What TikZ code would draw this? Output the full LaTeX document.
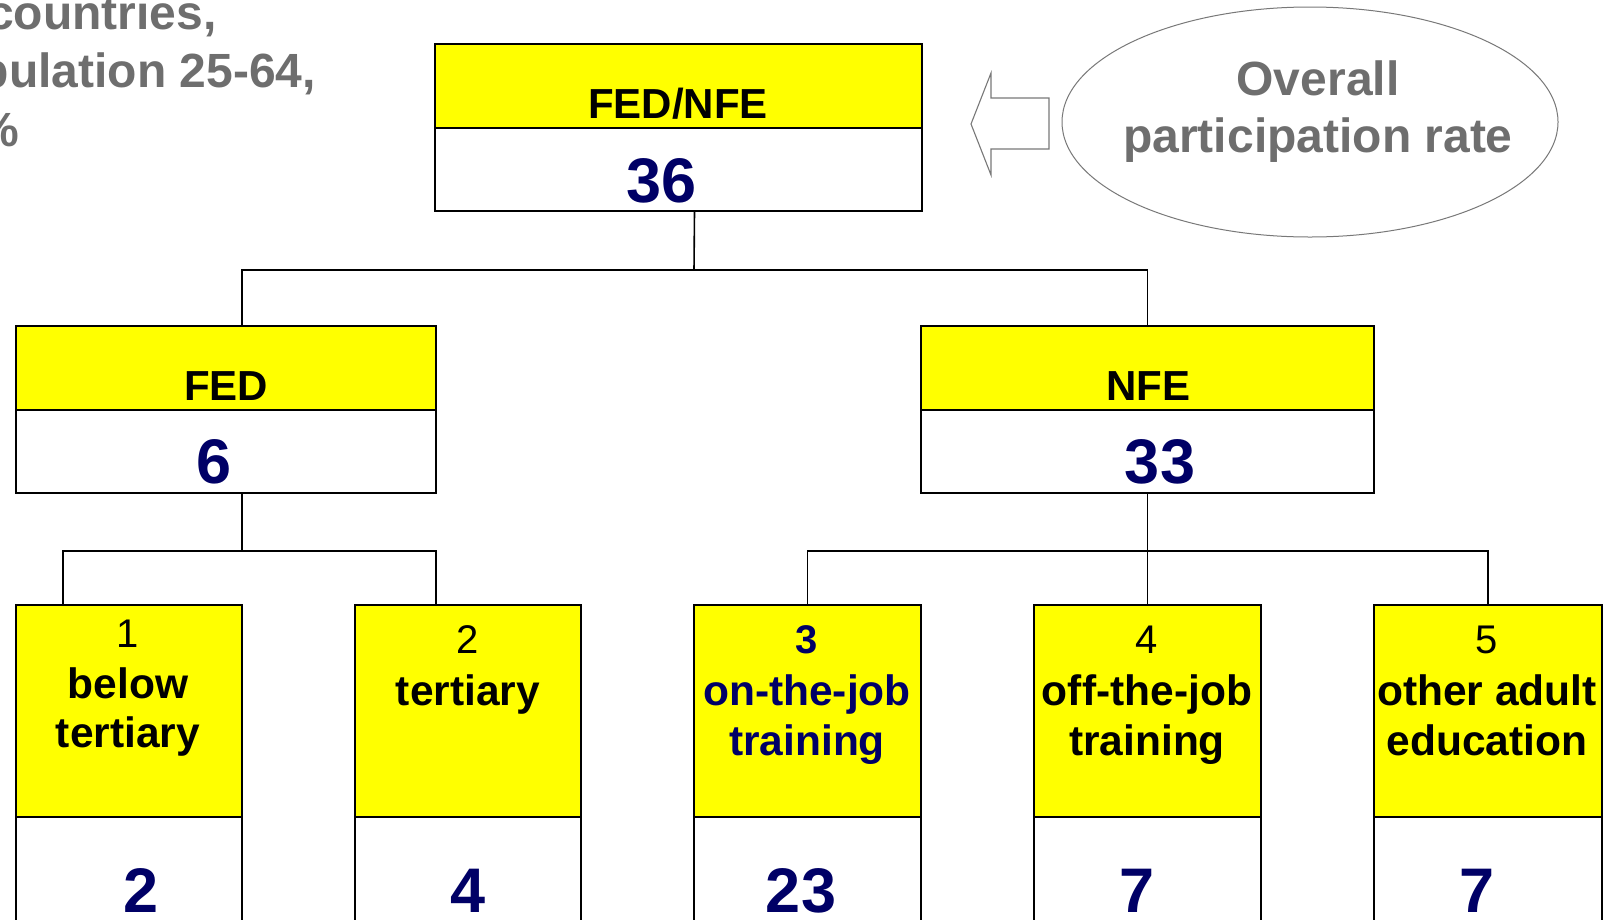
\documentclass[tikz,border=0pt]{standalone}
\usepackage{fontspec}
\setmainfont{Liberation Sans}
\usetikzlibrary{shapes.geometric,calc}
\definecolor{navy}{RGB}{0,0,102}
\definecolor{txtgray}{RGB}{110,110,110}
\definecolor{linegray}{RGB}{120,120,120}
\definecolor{boxyellow}{RGB}{255,255,0}
\tikzset{
  boxline/.style={draw=black, line width=1.8pt},
  hdr/.style={boxline, fill=boxyellow, rectangle, anchor=north west, inner sep=0pt, outer sep=0pt},
  valbox/.style={boxline, fill=white, rectangle, anchor=north west, inner sep=0pt, outer sep=0pt},
  conn/.style={draw=black, line width=1.6pt},
  headtxt/.style={anchor=base, inner sep=0pt, font=\fontsize{42}{50}\selectfont\bfseries},
  subtxt/.style={anchor=base, inner sep=0pt, font=\fontsize{42.5}{50}\selectfont\bfseries},
  idxtxt/.style={anchor=base, inner sep=0pt, font=\fontsize{40}{48}\selectfont},
  numtxt/.style={anchor=base, inner sep=0pt, text=navy, font=\fontsize{63}{70}\selectfont\bfseries},
  graytxt/.style={anchor=base, inner sep=0pt, text=txtgray, font=\fontsize{48}{56}\selectfont\bfseries},
}
\begin{document}
\begin{tikzpicture}[x=1pt,y=-1pt]
\clip (0,0) rectangle (1608,919);
\fill[white] (0,0) rectangle (1608,919);

% top-left caption (cut off by the left edge, as in the reference)
\node[graytxt, anchor=base west] (capA) at (-13,29) {countries,};
\node[graytxt, anchor=base west] (capB) at (-79,87) {population 25-64,};
\node[graytxt, anchor=base west] (capC) at (-24,146) {\%};

% top box
\node[hdr, minimum width=487, minimum height=84] (topH) at (435,44) {};
\node[valbox, minimum width=487, minimum height=83] (topV) at (435,128) {};
\node[headtxt] (topT) at (678,118) {FED/NFE};
\node[numtxt] (topN) at (662,202) {36};

% ellipse and arrow
\node[draw=linegray, line width=1pt, ellipse, minimum width=496, minimum height=230, inner sep=0pt] (ell) at (1310,122) {};
\node[graytxt] (ellA) at (1318,95) {Overall};
\node[graytxt] (ellB) at (1318,152) {participation rate};
\draw[linegray, line width=1.1pt, line join=miter]
  (971,124) -- (991,73) -- (991,98) -- (1049,98) -- (1049,149) -- (991,149) -- (991,175) -- cycle;

% level 2
\node[hdr, minimum width=420, minimum height=84] (fedH) at (16,326) {};
\node[valbox, minimum width=420, minimum height=83] (fedV) at (16,410) {};
\node[headtxt] (fedT) at (226,400) {FED};
\node[numtxt] (fedN) at (214,483) {6};

\node[hdr, minimum width=453, minimum height=84] (nfeH) at (921,326) {};
\node[valbox, minimum width=453, minimum height=83] (nfeV) at (921,410) {};
\node[headtxt] (nfeT) at (1148,400) {NFE};
\node[numtxt] (nfeN) at (1160,483) {33};

% level 3 boxes
\node[hdr, minimum width=226, minimum height=212] (b1H) at (16,605) {};
\node[valbox, minimum width=226, minimum height=130] (b1V) at (16,817) {};
\node[hdr, minimum width=226, minimum height=212] (b2H) at (355,605) {};
\node[valbox, minimum width=226, minimum height=130] (b2V) at (355,817) {};
\node[hdr, minimum width=227, minimum height=212] (b3H) at (694,605) {};
\node[valbox, minimum width=227, minimum height=130] (b3V) at (694,817) {};
\node[hdr, minimum width=227, minimum height=212] (b4H) at (1034,605) {};
\node[valbox, minimum width=227, minimum height=130] (b4V) at (1034,817) {};
\node[hdr, minimum width=228, minimum height=212] (b5H) at (1374,605) {};
\node[valbox, minimum width=228, minimum height=130] (b5V) at (1374,817) {};

% box 1
\node[idxtxt] (b1i) at (128,647) {1};
\node[subtxt] (b1a) at (128,698) {below};
\node[subtxt] (b1b) at (128,747) {tertiary};
\node[numtxt] (b1n) at (141,912) {2};
% box 2
\node[idxtxt] (b2i) at (468,653) {2};
\node[subtxt] (b2a) at (468,705) {tertiary};
\node[numtxt] (b2n) at (468,912) {4};
% box 3
\node[subtxt, text=navy, font=\fontsize{40}{48}\selectfont\bfseries] (b3i) at (807,653) {3};
\node[subtxt, text=navy] (b3a) at (807,705) {on-the-job};
\node[subtxt, text=navy] (b3b) at (807,755) {training};
\node[numtxt] (b3n) at (801,912) {23};
% box 4
\node[idxtxt] (b4i) at (1147,653) {4};
\node[subtxt] (b4a) at (1147,705) {off-the-job};
\node[subtxt] (b4b) at (1147,755) {training};
\node[numtxt] (b4n) at (1137,912) {7};
% box 5
\node[idxtxt] (b5i) at (1487,653) {5};
\node[subtxt] (b5a) at (1487,705) {other adult};
\node[subtxt] (b5b) at (1487,755) {education};
\node[numtxt] (b5n) at (1477,912) {7};

% connectors
\coordinate (bus1) at (694,270);
\coordinate (fedbus) at (242,551);
\coordinate (nfebus) at (1147.5,551);
\draw[conn] ([xshift=16pt]topV.south) -- (bus1);
\draw[conn] ([xshift=16pt]fedH.north) |- (bus1) -| (nfeH.north);
\draw[conn] ([xshift=16pt]fedV.south) -- (fedbus);
\draw[conn] ([xshift=47pt]b1H.north west) |- (fedbus) -| ([xshift=81pt]b2H.north west);
\draw[conn] (nfeV.south) -- (nfebus) -- (nfebus |- b4H.north);
\draw[conn] (b3H.north) |- (nfebus) -| (b5H.north);
\end{tikzpicture}
\end{document}
